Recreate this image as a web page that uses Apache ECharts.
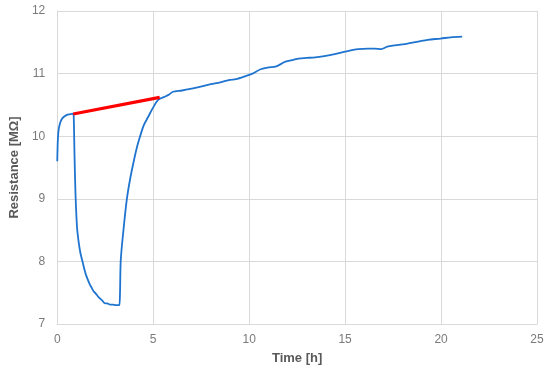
<!DOCTYPE html>
<html><head><meta charset="utf-8">
<script src="https://cdn.jsdelivr.net/npm/echarts@6/dist/echarts.min.js"></script>
<style>html,body{margin:0;padding:0;background:#fff}#c{width:550px;height:371px}</style>
</head><body><div id="c"></div>
<script>
const timeH = [0, 0.02, 0.04, 0.08, 0.17, 0.25, 0.35, 0.5, 0.65, 0.83, 0.86, 0.9, 0.95, 1.03, 1.12, 1.21, 1.33, 1.47, 1.55, 1.7, 1.81, 1.9, 2.0, 2.15, 2.33, 2.5, 2.6, 2.76, 2.9, 3.05, 3.2, 3.24, 3.27, 3.31, 3.45, 3.62, 3.8, 4.0, 4.15, 4.31, 4.5, 4.74, 5.0, 5.26, 5.6, 5.8, 6.03, 6.5, 7.0, 7.58, 8.0, 8.5, 9.0, 9.31, 9.82, 10.17, 10.6, 11.03, 11.37, 11.89, 12.3, 12.58, 13.0, 13.44, 14.13, 14.99, 15.68, 16.2, 16.54, 16.88, 17.2, 17.57, 18.26, 18.8, 19.3, 19.98, 20.5, 21.1];
const resistance = [9.6, 9.85, 9.99, 10.12, 10.23, 10.28, 10.31, 10.34, 10.35, 10.36, 10.3, 9.7, 9.09, 8.55, 8.3, 8.13, 7.98, 7.81, 7.74, 7.63, 7.57, 7.52, 7.49, 7.43, 7.38, 7.33, 7.33, 7.31, 7.31, 7.3, 7.3, 7.3, 7.49, 8.02, 8.5, 8.98, 9.32, 9.62, 9.82, 9.99, 10.17, 10.31, 10.46, 10.58, 10.63, 10.66, 10.71, 10.73, 10.76, 10.8, 10.83, 10.86, 10.9, 10.91, 10.96, 11.0, 11.07, 11.1, 11.11, 11.19, 11.22, 11.24, 11.25, 11.26, 11.29, 11.35, 11.39, 11.4, 11.4, 11.39, 11.43, 11.45, 11.48, 11.51, 11.54, 11.56, 11.58, 11.59];
const fitTime = [0.83, 5.34];
const fitResistance = [10.355, 10.62];
const xTicks = [0, 5, 10, 15, 20, 25];
const yTicks = [7, 8, 9, 10, 11, 12];

const chart = echarts.init(document.getElementById('c'));
const gridColor = '#d9d9d9';
const textColor = '#595959';
const tickColor = '#7a7a7a';
const font = 'Liberation Sans, Arial, sans-serif';
chart.setOption({
  animation: false,
  grid: {left: 53, right: 13, top: 11, bottom: 47, containLabel: false},
  xAxis: {
    type: 'value', min: xTicks[0], max: xTicks[xTicks.length-1], interval: 5,
    name: 'Time [h]', nameLocation: 'middle', nameGap: 28,
    nameTextStyle: {color: textColor, fontSize: 13, fontWeight: 'bold', fontFamily: font},
    axisLine: {show: true, lineStyle: {color: gridColor, width: 1}},
    axisTick: {show: false},
    axisLabel: {color: tickColor, fontSize: 12, fontFamily: font, margin: 10},
    splitLine: {show: true, lineStyle: {color: gridColor, width: 1}}
  },
  yAxis: {
    type: 'value', min: yTicks[0], max: yTicks[yTicks.length-1], interval: 1,
    name: 'Resistance [MΩ]', nameLocation: 'middle', nameGap: 31, nameRotate: 90,
    nameTextStyle: {color: textColor, fontSize: 13, fontWeight: 'bold', fontFamily: font},
    axisLine: {show: true, lineStyle: {color: gridColor, width: 1}},
    axisTick: {show: false},
    axisLabel: {color: tickColor, fontSize: 12, fontFamily: font, margin: 12},
    splitLine: {show: true, lineStyle: {color: gridColor, width: 1}}
  },
  series: [
    {type: 'line', data: timeH.map((t, i) => [t, resistance[i]]), showSymbol: false, smooth: 0.3,
     lineStyle: {color: '#1f74d0', width: 1.8}, z: 2},
    {type: 'line', data: fitTime.map((t, i) => [t, fitResistance[i]]), showSymbol: false,
     lineStyle: {color: '#ff0000', width: 3.2}, z: 3}
  ]
});
</script></body></html>
